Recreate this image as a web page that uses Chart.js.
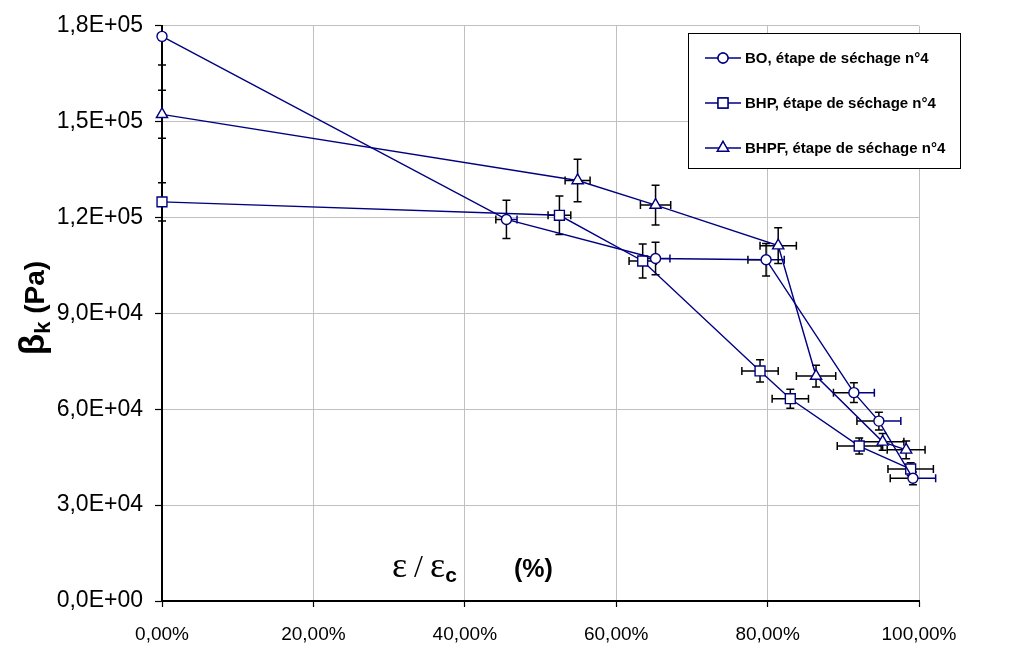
<!DOCTYPE html>
<html><head><meta charset="utf-8">
<script src="https://cdn.jsdelivr.net/npm/chart.js@4/dist/chart.umd.min.js"></script>
<style>html,body{margin:0;padding:0;background:#fff}#wrap{width:1029px;height:648px;position:relative}</style>
</head><body><div id="wrap"><canvas id="c" width="1029" height="648"></canvas></div>
<script>
// ---- data ----
const xTickLabels = ['0,00%','20,00%','40,00%','60,00%','80,00%','100,00%'];
const yTickLabels = ['0,0E+00','3,0E+04','6,0E+04','9,0E+04','1,2E+05','1,5E+05','1,8E+05'];
const seriesNames = ['BO, étape de séchage n°4','BHP, étape de séchage n°4','BHPF, étape de séchage n°4'];

const boX    = [0, 45.5, 65.2, 79.8, 91.4, 94.7, 99.2];
const boY    = [176700, 119400, 107200, 106800, 65200, 56300, 38400];
const boXErr = [0, 1.4, 1.9, 2.4, 2.7, 2.9, 3.0];
const boYErr = [9000, 6000, 5100, 5100, 3100, 2800, 2000];

const bhpX    = [0, 52.5, 63.5, 79.0, 83.0, 92.1, 98.9];
const bhpY    = [124900, 120700, 106400, 72000, 63300, 48500, 41300];
const bhpXErr = [0, 1.5, 1.8, 2.4, 2.4, 2.9, 3.0];
const bhpYErr = [6000, 6000, 5300, 3500, 3000, 2500, 2000];

const bhpfX    = [0, 54.9, 65.2, 81.4, 86.4, 95.2, 98.3];
const bhpfY    = [152300, 131600, 123900, 111200, 70400, 49800, 47300];
const bhpfXErr = [0, 1.65, 2.0, 2.4, 2.6, 2.8, 2.5];
const bhpfYErr = [7500, 6650, 6200, 5600, 3400, 2600, 2800];

// ---- build ----
const NAVY = '#000080';
function pts(xs, ys){ return xs.map((x,i)=>({x:x, y:ys[i]})); }
const errs = [
  {xe: boXErr, ye: boYErr, xPlusColor: NAVY},
  {xe: bhpXErr, ye: bhpYErr, xPlusColor: '#000'},
  {xe: bhpfXErr, ye: bhpfYErr, xPlusColor: '#000'}
];
function ds(label, data, style, r){
  return {label, data, showLine:true, borderColor:NAVY, borderWidth:1.4,
    pointStyle:style, pointRadius:r, pointHoverRadius:r, pointBackgroundColor:'#fff',
    pointBorderColor:NAVY, pointBorderWidth:1.4, clip:false, tension:0, fill:false};
}

const errorBars = {
  id:'errorBars',
  beforeDatasetsDraw(chart){
    const ctx = chart.ctx, xs = chart.scales.x, ys = chart.scales.y;
    ctx.save();
    ctx.lineWidth = 1.5;
    const cap = 4;
    chart.data.datasets.forEach((d, di)=>{
      const e = errs[di];
      d.data.forEach((p, i)=>{
        const px = xs.getPixelForValue(p.x), py = ys.getPixelForValue(p.y);
        const yt = ys.getPixelForValue(p.y + e.ye[i]), yb = ys.getPixelForValue(p.y - e.ye[i]);
        const top = Math.max(yt, ys.top);
        ctx.strokeStyle = '#000';
        ctx.beginPath();
        ctx.moveTo(px, top); ctx.lineTo(px, yb);
        if (yt >= ys.top){ ctx.moveTo(px-cap, yt); ctx.lineTo(px+cap, yt); }
        ctx.moveTo(px-cap, yb); ctx.lineTo(px+cap, yb);
        ctx.stroke();
        if (e.xe[i] > 0){
          const xl = xs.getPixelForValue(p.x - e.xe[i]), xr = xs.getPixelForValue(p.x + e.xe[i]);
          ctx.strokeStyle = '#000';
          ctx.beginPath();
          ctx.moveTo(xl, py); ctx.lineTo(px, py);
          ctx.moveTo(xl, py-cap); ctx.lineTo(xl, py+cap);
          ctx.stroke();
          ctx.strokeStyle = e.xPlusColor;
          ctx.beginPath();
          ctx.moveTo(px, py); ctx.lineTo(xr, py);
          ctx.moveTo(xr, py-cap); ctx.lineTo(xr, py+cap);
          ctx.stroke();
        }
      });
    });
    ctx.restore();
  }
};

const titles = {
  id:'titles',
  afterDraw(chart){
    const ctx = chart.ctx;
    ctx.save();
    ctx.fillStyle = '#000';
    // x title inside plot
    let x = 392, base = 577;
    ctx.textBaseline = 'alphabetic';
    ctx.font = '36px "Liberation Serif", "Times New Roman", serif';
    ctx.fillText('ε', x, base); x += ctx.measureText('ε').width + 7;
    ctx.font = '32px "Liberation Serif", serif';
    ctx.fillText('/', x, base); x += ctx.measureText('/').width + 7;
    ctx.font = '36px "Liberation Serif", serif';
    ctx.fillText('ε', x, base); x += ctx.measureText('ε').width;
    ctx.font = 'bold 21px "Liberation Sans", Arial, sans-serif';
    ctx.fillText('c', x, base + 5);
    ctx.font = 'bold 25px "Liberation Sans", Arial, sans-serif';
    ctx.fillText('(%)', 514, base);
    // y title rotated
    ctx.translate(44, 308);
    ctx.rotate(-Math.PI/2);
    const f1 = 'bold 35px "Liberation Sans", Arial, sans-serif';
    const f2 = 'bold 22px "Liberation Sans", Arial, sans-serif';
    const f3 = 'bold 28px "Liberation Sans", Arial, sans-serif';
    ctx.font = f1; const w1 = ctx.measureText('β').width;
    ctx.font = f2; const w2 = ctx.measureText('k').width;
    ctx.font = f3; const w3 = ctx.measureText(' (Pa)').width;
    let t = -(w1+w2+w3)/2;
    ctx.font = f1; ctx.fillText('β', t, 0); t += w1;
    ctx.font = f2; ctx.fillText('k', t, 6); t += w2;
    ctx.font = f3; ctx.fillText(' (Pa)', t, 0);
    ctx.restore();
  }
};

const legendBox = {
  id:'legendBox',
  afterDraw(chart){
    const ctx = chart.ctx;
    ctx.save();
    const L = 688, T = 33, W = 272, H = 135;
    ctx.fillStyle = '#fff';
    ctx.fillRect(L, T, W, H);
    ctx.strokeStyle = '#000'; ctx.lineWidth = 1;
    ctx.strokeRect(L+0.5, T+0.5, W, H);
    const rows = [58, 103, 148];
    const styles = ['circle','rect','triangle'], radii = [5,7,6.5];
    chart.data.datasets.forEach((d, i)=>{
      const y = rows[i];
      ctx.strokeStyle = NAVY; ctx.lineWidth = 1.4;
      ctx.beginPath(); ctx.moveTo(705, y); ctx.lineTo(741, y); ctx.stroke();
      ctx.fillStyle = '#fff';
      Chart.helpers.drawPoint(ctx, {pointStyle:styles[i], radius:radii[i], rotation:0, borderWidth:1.4}, 723, y);
      ctx.fill(); ctx.stroke();
      ctx.fillStyle = '#000';
      ctx.font = 'bold 15px "Liberation Sans", Arial, sans-serif';
      ctx.textBaseline = 'middle';
      ctx.fillText(d.label, 745, y + 1);
    });
    ctx.restore();
  }
};

new Chart(document.getElementById('c'), {
  type:'scatter',
  data:{ datasets:[
    ds(seriesNames[0], pts(boX, boY), 'circle', 5),
    ds(seriesNames[1], pts(bhpX, bhpY), 'rect', 7),
    ds(seriesNames[2], pts(bhpfX, bhpfY), 'triangle', 6.5)
  ]},
  options:{
    responsive:false, animation:false,
    layout:{padding:{left:0, top:23, right:110, bottom:0}},
    plugins:{legend:{display:false}, tooltip:{enabled:false}},
    scales:{
      x:{type:'linear', min:0, max:100,
        afterFit(s){ s.height = 47; },
        afterBuildTicks(s){ s.ticks = xTickLabels.map((_,i)=>({value:i*20})); },
        ticks:{ callback:(v,i)=>xTickLabels[i], color:'#000', padding:16, maxRotation:0,
          font:{family:'"Liberation Sans", Arial, sans-serif', size:19} },
        grid:{ color:'#c0c0c0', lineWidth:1, tickColor:'#000', tickLength:6, tickWidth:1.2 },
        border:{ color:'#000', width:2 }
      },
      y:{type:'linear', min:0, max:180000,
        afterFit(s){ s.width = 162; },
        afterBuildTicks(s){ s.ticks = yTickLabels.map((_,i)=>({value:i*30000})); },
        ticks:{ callback:(v,i)=>yTickLabels[i], color:'#000', padding:12,
          font:{family:'"Liberation Sans", Arial, sans-serif', size:23} },
        grid:{ color:'#c0c0c0', lineWidth:1, tickColor:'#000', tickLength:7, tickWidth:1.2 },
        border:{ color:'#000', width:2 }
      }
    }
  },
  plugins:[errorBars, titles, legendBox]
});
</script></body></html>
